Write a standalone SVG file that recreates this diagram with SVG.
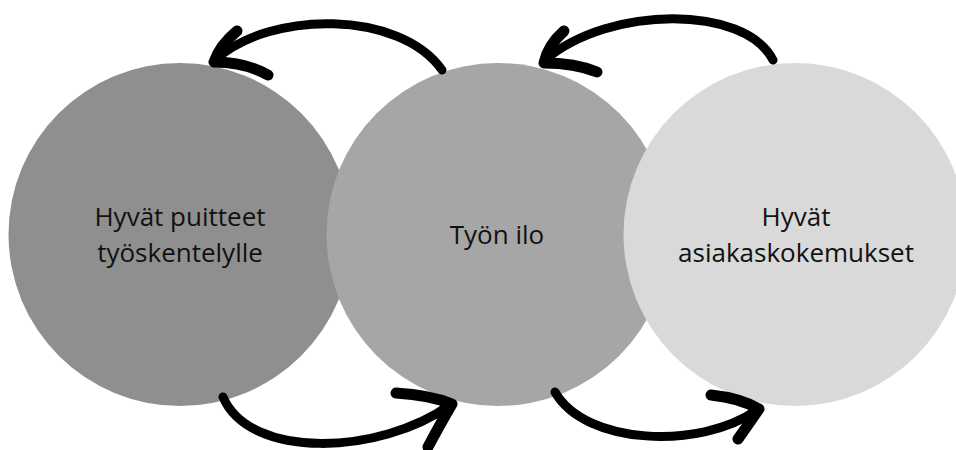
<svg xmlns="http://www.w3.org/2000/svg" width="956" height="450" viewBox="0 0 956 450">
<style>
.lbl{font-family:"Open Sans","Noto Sans",sans-serif;font-size:26px;fill:#111;text-anchor:middle}
.arr{fill:none;stroke:#000;stroke-width:9;stroke-linecap:round;stroke-linejoin:round}
.barb{fill:none;stroke:#000;stroke-width:11;stroke-linecap:round;stroke-linejoin:round}
</style>
<rect width="956" height="450" fill="#fff"/>
<g id="node-puitteet">
<circle cx="180" cy="234.5" r="171.5" fill="#8f8f8f"/>
<text class="lbl" x="180" y="226">Hyvät puitteet</text>
<text class="lbl" x="180" y="262">työskentelylle</text>
</g>
<g id="node-tyonilo">
<circle cx="498" cy="234.5" r="171.5" fill="#a6a6a6"/>
<text class="lbl" x="497" y="244">Työn ilo</text>
</g>
<g id="node-asiakas">
<circle cx="795" cy="234.5" r="171.5" fill="#d9d9d9"/>
<text class="lbl" x="796" y="226">Hyvät</text>
<text class="lbl" x="796" y="262">asiakaskokemukset</text>
</g>
<g id="connectors">
<path class="arr" d="M442,70 C400,10 270,10 215,60"/>
<path class="barb" d="M237,31 Q220,45 214,62 Q245,62 268,75"/>
<path class="arr" d="M773,60 C745,5 610,5 545,60"/>
<path class="barb" d="M564,31 Q548,45 544,63 Q575,63 597,72"/>
<path class="arr" d="M223,397 C250,460 380,455 450,405"/>
<path class="barb" d="M396,393 Q430,395 452,404 Q438,428 428,447"/>
<path class="arr" d="M555,392 C585,445 700,450 757,410"/>
<path class="barb" d="M711,395 Q740,398 759,409 Q748,425 738,439"/>
</g>
</svg>
